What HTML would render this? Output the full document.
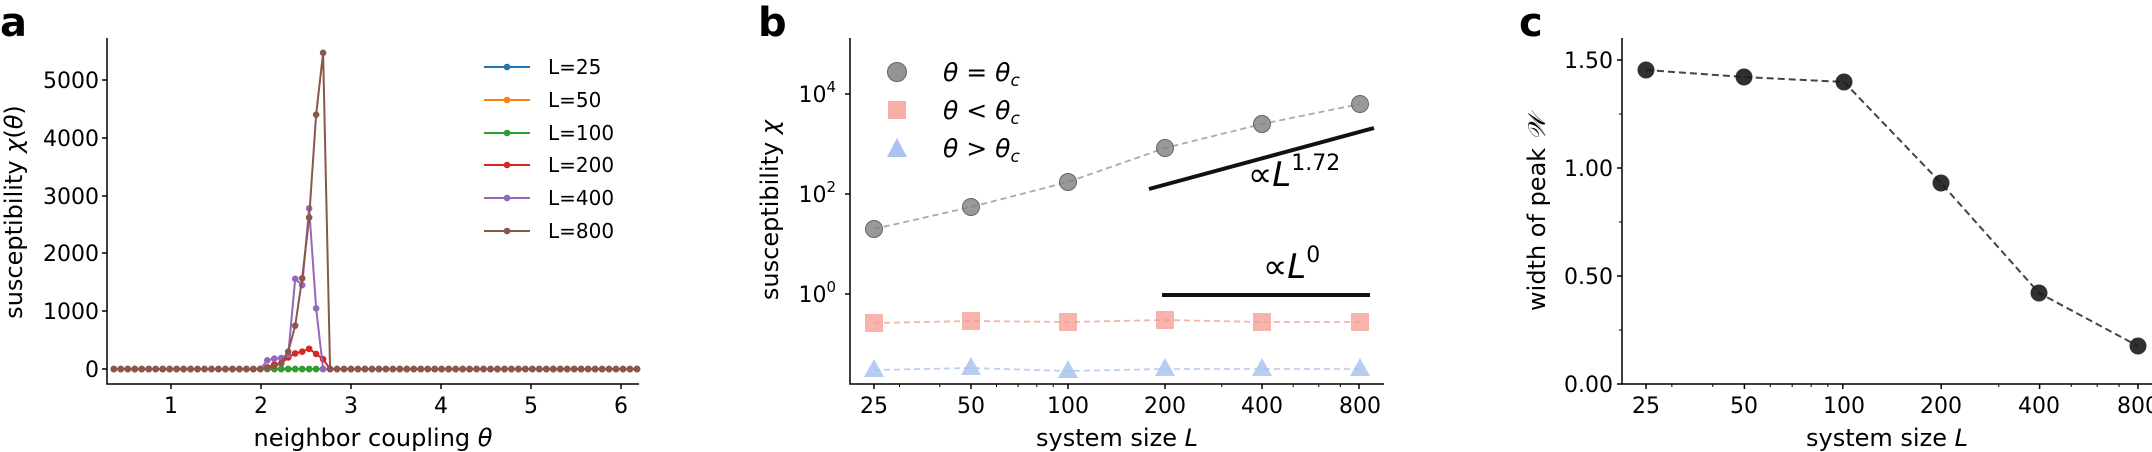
<!DOCTYPE html>
<html><head><meta charset="utf-8"><style>
html,body{margin:0;padding:0;background:#fff;}
svg{display:block;}
.t{font-family:"DejaVu Sans","Liberation Sans",sans-serif;font-size:22px;fill:#000;}
.l{font-family:"DejaVu Sans","Liberation Sans",sans-serif;font-size:24px;fill:#000;}
.b{font-family:"DejaVu Sans","Liberation Sans",sans-serif;font-size:40px;font-weight:bold;fill:#000;}
.m{font-family:"DejaVu Sans","Liberation Sans",sans-serif;font-size:25px;font-style:italic;fill:#000;}
</style></head><body>
<svg id="s" width="2152" height="452" viewBox="0 0 2152 452" xmlns="http://www.w3.org/2000/svg">
<!-- Panel a -->
<text class="b" x="0" y="36">a</text>
<g id="pa"></g>
<path d="M107,38 V384 H639" fill="none" stroke="#000" stroke-width="1.5"/>
<g stroke="#000" stroke-width="1.5">
<line x1="171" y1="384" x2="171" y2="389"/><line x1="261" y1="384" x2="261" y2="389"/><line x1="351" y1="384" x2="351" y2="389"/><line x1="441" y1="384" x2="441" y2="389"/><line x1="531" y1="384" x2="531" y2="389"/><line x1="621" y1="384" x2="621" y2="389"/>
<line x1="102" y1="369" x2="107" y2="369"/><line x1="102" y1="311" x2="107" y2="311"/><line x1="102" y1="253" x2="107" y2="253"/><line x1="102" y1="196" x2="107" y2="196"/><line x1="102" y1="138" x2="107" y2="138"/><line x1="102" y1="80" x2="107" y2="80"/>
</g>
<g class="t" text-anchor="middle">
<text x="171" y="413">1</text><text x="261" y="413">2</text><text x="351" y="413">3</text><text x="441" y="413">4</text><text x="531" y="413">5</text><text x="621" y="413">6</text>
</g>
<g class="t" text-anchor="end">
<text x="99" y="377">0</text><text x="99" y="319">1000</text><text x="99" y="261">2000</text><text x="99" y="204">3000</text><text x="99" y="146">4000</text><text x="99" y="88">5000</text>
</g>
<text class="l" x="373" y="446" text-anchor="middle">neighbor coupling <tspan font-style="italic">θ</tspan></text>
<text class="l" transform="translate(22,212) rotate(-90)" text-anchor="middle">susceptibility <tspan font-style="italic">χ</tspan>(<tspan font-style="italic">θ</tspan>)</text>
<g id="lega"></g>

<!-- Panel b -->
<text class="b" x="758" y="36">b</text>
<path d="M850,38 V384 H1384" fill="none" stroke="#000" stroke-width="1.5"/>
<g id="bt" stroke="#000" stroke-width="1.5"></g>
<g class="t" text-anchor="middle">
<text x="874" y="413">25</text><text x="971" y="413">50</text><text x="1068" y="413">100</text><text x="1165" y="413">200</text><text x="1262" y="413">400</text><text x="1360" y="413">800</text>
</g>
<g class="t" text-anchor="end">
<text x="836" y="102">10<tspan dy="-10" style="font-size:15px">4</tspan></text>
<text x="836" y="202">10<tspan dy="-10" style="font-size:15px">2</tspan></text>
<text x="836" y="302">10<tspan dy="-10" style="font-size:15px">0</tspan></text>
</g>
<g id="bd"></g>
<line x1="1149" y1="189" x2="1374" y2="128" stroke="#111" stroke-width="4"/>
<line x1="1162" y1="295" x2="1370" y2="295" stroke="#111" stroke-width="4"/>
<text class="l" x="1248" y="186" style="font-size:34px">∝<tspan font-style="italic" style="font-size:34px">L</tspan><tspan dy="-16" style="font-size:22px">1.72</tspan></text>
<text class="l" x="1263" y="278" style="font-size:34px">∝<tspan font-style="italic" style="font-size:34px">L</tspan><tspan dy="-16" style="font-size:22px">0</tspan></text>
<circle cx="897" cy="72" r="9.5" fill="#808080" fill-opacity="0.85" stroke="#666" stroke-width="1"/>
<rect x="888" y="101" width="18" height="18" fill="#f59a90" fill-opacity="0.8"/>
<polygon points="897,138 907,157 887,157" fill="#a9c3ee"/>
<text class="m" x="943" y="81">θ = θ<tspan style="font-size:17px" dy="5">c</tspan></text>
<text class="m" x="943" y="119">θ &lt; θ<tspan style="font-size:17px" dy="5">c</tspan></text>
<text class="m" x="943" y="157">θ &gt; θ<tspan style="font-size:17px" dy="5">c</tspan></text>
<text class="l" x="1117" y="446" text-anchor="middle">system size <tspan font-style="italic">L</tspan></text>
<text class="l" transform="translate(778,210) rotate(-90)" text-anchor="middle">susceptibility <tspan font-style="italic">χ</tspan></text>

<!-- Panel c -->
<text class="b" x="1519" y="36">c</text>
<path d="M1622,38 V384 H2152" fill="none" stroke="#000" stroke-width="1.5"/>
<g id="ct" stroke="#000" stroke-width="1.5"></g>
<g class="t" text-anchor="middle">
<text x="1646" y="413">25</text><text x="1744" y="413">50</text><text x="1844" y="413">100</text><text x="1941" y="413">200</text><text x="2039" y="413">400</text><text x="2138" y="413">800</text>
</g>
<g class="t" text-anchor="end">
<text x="1613" y="392">0.00</text><text x="1613" y="284">0.50</text><text x="1613" y="176">1.00</text><text x="1613" y="68">1.50</text>
</g>
<polyline points="1646,70 1744,77 1844,82 1941,183 2039,293 2138,346" fill="none" stroke="#444" stroke-width="2" stroke-dasharray="7,4"/>
<g fill="#1a1a1a" fill-opacity="0.9">
<circle cx="1646" cy="70" r="8.5"/><circle cx="1744" cy="77" r="8.5"/><circle cx="1844" cy="82" r="8.5"/><circle cx="1941" cy="183" r="8.5"/><circle cx="2039" cy="293" r="8.5"/><circle cx="2138" cy="346" r="8.5"/>
</g>
<text class="l" x="1887" y="446" text-anchor="middle">system size <tspan font-style="italic">L</tspan></text>
<text class="l" transform="translate(1545,213) rotate(-90)" text-anchor="middle">width of peak <tspan font-style="italic">𝒲</tspan></text>
</svg>
<script>
var NS="http://www.w3.org/2000/svg";
function el(p,t,a){var e=document.createElementNS(NS,t);for(var k in a)e.setAttribute(k,a[k]);p.appendChild(e);return e;}
var pa=document.getElementById('pa');
var cols=["#1f77b4","#ff7f0e","#2ca02c","#d62728","#9467bd","#8c564b"];
var peaks=[{},{},{},
 {22:30,23:80,24:100,25:200,26:270,27:300,28:350,29:260,30:170},
 {22:150,23:180,24:190,25:250,26:1560,27:1450,28:2780,29:1050},
 {22:20,23:50,24:100,25:300,26:750,27:1570,28:2620,29:4400,30:5470}];
for(var s=0;s<6;s++){
 var pts=[];
 for(var i=0;i<76;i++){var th=0.365+0.0775*i;var v=peaks[s][i]||0;pts.push([81+90*th,369-v*0.0578]);}
 el(pa,'polyline',{points:pts.map(function(p){return p.join(',')}).join(' '),fill:'none',stroke:cols[s],'stroke-width':2});
 var g=el(pa,'g',{fill:cols[s]});
 pts.forEach(function(p){el(g,'circle',{cx:p[0],cy:p[1],r:3.3});});
}
var lg=document.getElementById('lega');var labs=["L=25","L=50","L=100","L=200","L=400","L=800"];
var ly=[67,100,133,165,198,231];
for(var s=0;s<6;s++){
 el(lg,'line',{x1:484,y1:ly[s],x2:530,y2:ly[s],stroke:cols[s],'stroke-width':2});
 el(lg,'circle',{cx:507,cy:ly[s],r:3.3,fill:cols[s]});
 var t=el(lg,'text',{x:548,y:ly[s]+7,'class':'t'});t.setAttribute('style','font-size:20px');t.textContent=labs[s];
}
function minor(g,x0,y,px){var dec=px/Math.log10(2);
 var vals=[30,40,60,70,80,90,300,500,600,700];
 vals.forEach(function(v){var x=x0+Math.log10(v/25)*dec;el(g,'line',{x1:x,y1:y,x2:x,y2:y+3,'stroke-width':1});});
 [25,50,100,200,400,800].forEach(function(v){var x=x0+Math.log10(v/25)*dec;el(g,'line',{x1:x,y1:y,x2:x,y2:y+5});});
}
var bt=document.getElementById('bt');minor(bt,874,384,97);
[94,194,294].forEach(function(y){el(bt,'line',{x1:845,y1:y,x2:850,y2:y});});
var ct=document.getElementById('ct');minor(ct,1646,384,98.4);
[60,168,276,384].forEach(function(y){el(ct,'line',{x1:1617,y1:y,x2:1622,y2:y});});
[114,222,330].forEach(function(y){el(ct,'line',{x1:1619,y1:y,x2:1622,y2:y,'stroke-width':1});});
var bd=document.getElementById('bd');var xs=[874,971,1068,1165,1262,1360];
var gy=[229,207,182,148,124,104],sy=[323,321,322,320,322,322],ty=[370,368,371,369,369,369];
function pl(arr,c){el(bd,'polyline',{points:xs.map(function(x,i){return x+','+arr[i]}).join(' '),fill:'none',stroke:c,'stroke-width':1.8,'stroke-dasharray':'6,4'});}
pl(gy,'#aaa');pl(sy,'#f6b3ab');pl(ty,'#bcd0f0');
xs.forEach(function(x,i){
 el(bd,'circle',{cx:x,cy:gy[i],r:8.5,fill:'#808080','fill-opacity':0.8,stroke:'#666','stroke-width':1});
 el(bd,'rect',{x:x-9,y:sy[i]-9,width:18,height:18,fill:'#f59a90','fill-opacity':0.75});
 el(bd,'polygon',{points:(x)+','+(ty[i]-11)+' '+(x+10)+','+(ty[i]+7)+' '+(x-10)+','+(ty[i]+7),fill:'#a9c3ee','fill-opacity':0.85});
});
</script>
</body></html>
